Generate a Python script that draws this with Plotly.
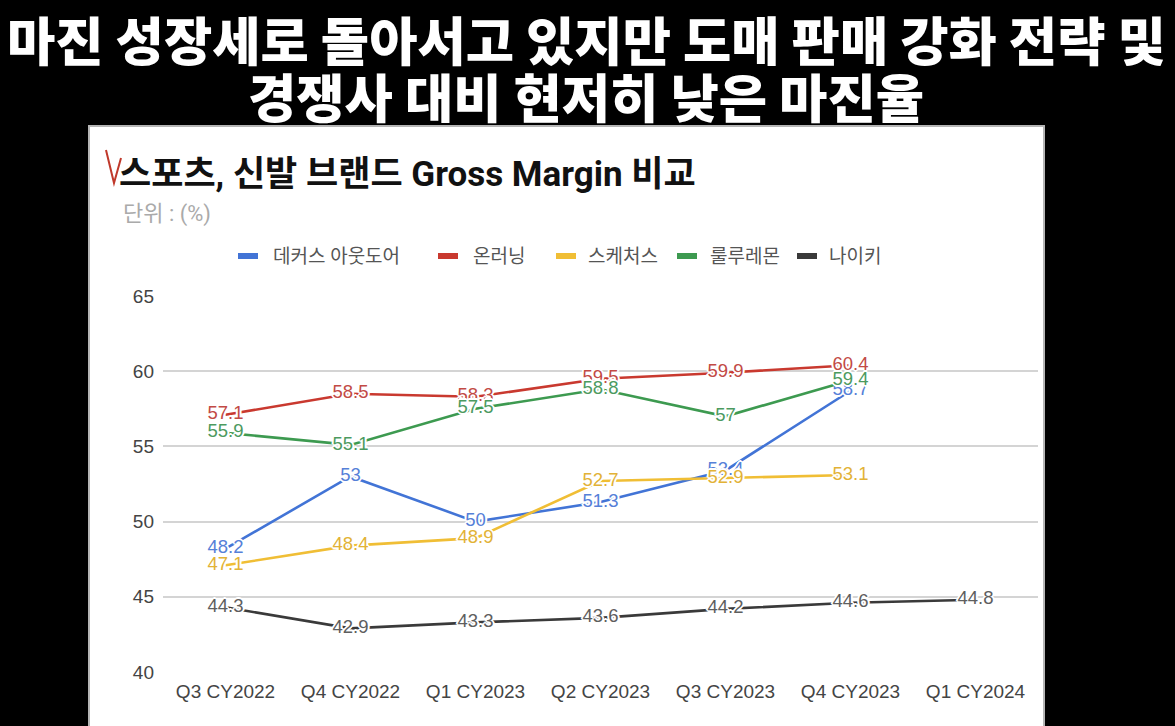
import plotly.graph_objects as go

# ---------------- data ----------------
categories = ["Q3 CY2022", "Q4 CY2022", "Q1 CY2023", "Q2 CY2023",
              "Q3 CY2023", "Q4 CY2023", "Q1 CY2024"]
series_names = ["데커스 아웃도어", "온러닝", "스케처스", "룰루레몬", "나이키"]
deckers = [48.2, 53, 50, 51.3, 53.4, 58.7, None]
on_running = [57.1, 58.5, 58.3, 59.5, 59.9, 60.4, None]
skechers = [47.1, 48.4, 48.9, 52.7, 52.9, 53.1, None]
lululemon = [55.9, 55.1, 57.5, 58.8, 57, 59.4, None]
nike = [44.3, 42.9, 43.3, 43.6, 44.2, 44.6, 44.8]
y_ticks = [40, 45, 50, 55, 60, 65]

title_lines = ["마진 성장세로 돌아서고 있지만 도매 판매 강화 전략 및",
               "경쟁사 대비 현저히 낮은 마진율"]
chart_title = "스포츠, 신발 브랜드 Gross Margin 비교"
unit_text = "단위 : (%)"

# ---------------- style ----------------
line_colors = ["#4274d6", "#c9392f", "#f0be35", "#3d9a50", "#3a3a3a"]
label_colors = ["#5580d8", "#c24a45", "#e2b236", "#4c9a5f", "#5e5e5e"]

W, H = 1175, 726
L, R, T, B = 163, 1038, 296, 672


def px(x):
    return (x - L) / (R - L)


def py(y):
    return (B - y) / (B - T)


halo = ("#fff 1px 1px 0, #fff -1px -1px 0, #fff 1px -1px 0, #fff -1px 1px 0, "
        "#fff 2px 0 0, #fff -2px 0 0, #fff 0 2px 0, #fff 0 -2px 0")

fig = go.Figure()
all_series = [deckers, on_running, skechers, lululemon, nike]
for name, vals, lc, tc in zip(series_names, all_series, line_colors, label_colors):
    fig.add_trace(go.Scatter(
        x=categories, y=vals, name=name, mode="lines+text",
        line=dict(color=lc, width=2.6),
        text=[("" if v is None else f"{v:g}") for v in vals],
        textposition="middle center",
        textfont=dict(family="Arial, Liberation Sans, sans-serif", size=18.5,
                      color=tc, shadow=halo),
        showlegend=False, hoverinfo="skip", connectgaps=False,
    ))

shapes = []
# white chart panel
shapes.append(dict(type="rect", xref="paper", yref="paper",
                   x0=px(89), x1=px(1044), y0=py(126), y1=py(740),
                   fillcolor="#ffffff", line=dict(color="#b5b5b5", width=2),
                   layer="below"))
# red hand-drawn check mark
shapes.append(dict(type="path", xref="paper", yref="paper",
                   path=f"M {px(106)} {py(150)} L {px(114)} {py(183)} L {px(121)} {py(158)}",
                   line=dict(color="#c0392b", width=2), layer="above"))

annotations = []
# main (video) title
for i, t in enumerate(title_lines):
    annotations.append(dict(text=t, xref="paper", yref="paper",
                            x=px(586), y=py(38 + 57 * i), xanchor="center", yanchor="middle",
                            showarrow=False,
                            font=dict(family="Noto Sans CJK KR", size=52.5, color="#ffffff",
                                      weight=900)))
# chart title
annotations.append(dict(text=chart_title, xref="paper", yref="paper",
                        x=px(117), y=py(175), xanchor="left", yanchor="middle",
                        showarrow=False,
                        font=dict(family="Roboto, Noto Sans CJK KR", size=35,
                                  color="#111111", weight="bold")))
annotations.append(dict(text=unit_text, xref="paper", yref="paper",
                        x=px(121), y=py(214), xanchor="left", yanchor="middle",
                        showarrow=False,
                        font=dict(family="Roboto, Noto Sans CJK KR", size=22,
                                  color="#aaaaaa")))

# manual legend
legend_x = [(238, 271), (438, 471), (556, 586), (677, 708), (797, 827)]
for (sx, tx), name, lc in zip(legend_x, series_names, line_colors):
    shapes.append(dict(type="rect", xref="paper", yref="paper",
                       x0=px(sx), x1=px(sx + 20), y0=py(259), y1=py(253),
                       fillcolor=lc, line=dict(width=0)))
    annotations.append(dict(text=name, xref="paper", yref="paper",
                            x=px(tx), y=py(256), xanchor="left", yanchor="middle",
                            showarrow=False,
                            font=dict(family="Roboto, Noto Sans CJK KR", size=19,
                                      color="#555555")))

fig.update_layout(
    width=W, height=H,
    margin=dict(l=L, r=W - R, t=T, b=H - B, pad=0),
    paper_bgcolor="#000000", plot_bgcolor="rgba(0,0,0,0)",
    shapes=shapes, annotations=annotations,
    showlegend=False,
    xaxis=dict(type="category", range=[-0.5, len(categories) - 0.5],
               showgrid=False, showline=False, zeroline=False, ticks="",
               tickfont=dict(family="Arial, Liberation Sans, sans-serif", size=19,
                             color="#444444"),
               ticklabelstandoff=6, fixedrange=True),
    yaxis=dict(range=[40, 65], tickvals=y_ticks, showgrid=True,
               gridcolor="#d4d4d4", gridwidth=1.5, zeroline=False, showline=False,
               ticks="",
               tickfont=dict(family="Arial, Liberation Sans, sans-serif", size=19,
                             color="#444444"),
               ticklabelstandoff=8, fixedrange=True),
)

fig.write_html("out.html",
               config={"displayModeBar": False},
               post_script="document.body.style.margin='0';document.body.style.background='#000';")
